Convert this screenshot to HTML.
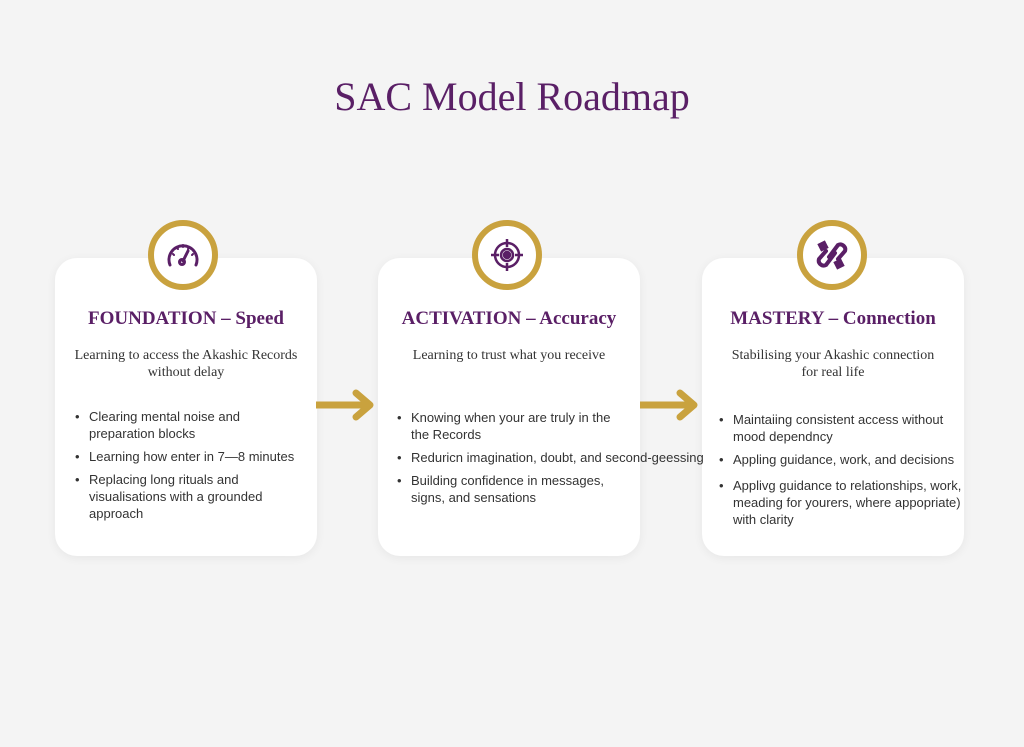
<!DOCTYPE html>
<html><head><meta charset="utf-8"><style>
body{margin:0;width:1024px;height:747px;background:#f4f4f4;position:relative;overflow:hidden;font-family:"Liberation Sans",sans-serif}
.t{position:absolute;left:0;width:1024px;top:73px;text-align:center;font:40px "Liberation Serif",serif;color:#5a1f66}
.card{position:absolute;top:258px;width:262px;height:298px;background:#fff;border-radius:22px;box-shadow:0 2px 10px rgba(0,0,0,.06)}
.ring{position:absolute;top:220px;width:58px;height:58px;border:6px solid #c9a23e;border-radius:50%;background:#fff}
.ring svg{position:absolute;left:9px;top:9px}
.h{position:absolute;font:bold 19px "Liberation Serif",serif;color:#5a1f66;white-space:nowrap;text-align:center;width:262px;top:308px}
.s{position:absolute;font:14px/17px "Liberation Serif",serif;color:#333;text-align:center;width:262px;top:347px}
ul{position:absolute;margin:0;padding:0;list-style:none;font-size:13px;line-height:17px;color:#333;width:320px;white-space:nowrap}
li{position:relative;padding-left:14px;margin-bottom:6px}
li:before{content:"•";position:absolute;left:0}
.arr{position:absolute;top:389px}
</style></head><body>
<div class="t">SAC Model Roadmap</div>

<div class="card" style="left:55px"></div>
<div class="card" style="left:378px"></div>
<div class="card" style="left:702px"></div>

<div class="ring" style="left:148px"><svg width="40" height="40" viewBox="0 0 40 40" fill="none" stroke="#5a1f66" stroke-width="3" stroke-linecap="round"><path d="M7 30 A14 14 0 1 1 33 30"/><path d="M20 26 L25 16"/><circle cx="19" cy="27" r="2.5"/><path d="M10 19l1 1M20 10v2M30 19l-1 1M14 13l1 1M26 13l-1 1" stroke-width="2"/></svg></div>
<div class="ring" style="left:472px"><svg width="40" height="40" viewBox="0 0 40 40" fill="none" stroke="#5a1f66" stroke-width="2.5"><circle cx="20" cy="20" r="12"/><circle cx="20" cy="20" r="6"/><path d="M20 4v8M20 28v8M4 20h8M28 20h8"/><circle cx="20" cy="20" r="3" fill="#5a1f66"/></svg></div>
<div class="ring" style="left:797px"><svg width="40" height="40" viewBox="0 0 40 40" fill="none" stroke="#5a1f66" stroke-width="4" stroke-linecap="round"><path d="M17 22 L26 10 A5 5 0 0 1 33 16 L26 24"/><path d="M23 18 L14 30 A5 5 0 0 1 7 24 L14 16"/><path d="M8 10 l4 -2 l2 4 l-4 2z" fill="#5a1f66"/><path d="M30 30 l-4 2 l-2 -4 l4 -2z" fill="#5a1f66"/></svg></div>

<div class="h" style="left:55px">FOUNDATION – Speed</div>
<div class="h" style="left:378px">ACTIVATION – Accuracy</div>
<div class="h" style="left:702px">MASTERY – Connection</div>

<div class="s" style="left:55px">Learning to access the Akashic Records<br>without delay</div>
<div class="s" style="left:378px">Learning to trust what you receive</div>
<div class="s" style="left:702px">Stabilising your Akashic connection<br>for real life</div>

<ul style="left:75px;top:408px"><li>Clearing mental noise and<br>preparation blocks</li><li>Learning how enter in 7—8 minutes</li><li>Replacing long rituals and<br>visualisations with a grounded<br>approach</li></ul>
<ul style="left:397px;top:409px"><li>Knowing when your are truly in the<br>the Records</li><li>Reduricn imagination, doubt, and second-geessing</li><li>Building confidence in messages,<br>signs, and sensations</li></ul>
<ul style="left:719px;top:411px"><li>Maintaiing consistent access without<br>mood dependncy</li><li style="margin-bottom:9px">Appling guidance, work, and decisions</li><li>Applivg guidance to relationships, work,<br>meading for yourers, where appopriate)<br>with clarity</li></ul>

<svg class="arr" style="left:316px" width="60" height="32"><path d="M0 16H52M40 4L54 16L40 28" stroke="#c9a23e" stroke-width="7" fill="none" stroke-linecap="round" stroke-linejoin="round"/></svg>
<svg class="arr" style="left:640px" width="60" height="32"><path d="M0 16H52M40 4L54 16L40 28" stroke="#c9a23e" stroke-width="7" fill="none" stroke-linecap="round" stroke-linejoin="round"/></svg>
</body></html>
